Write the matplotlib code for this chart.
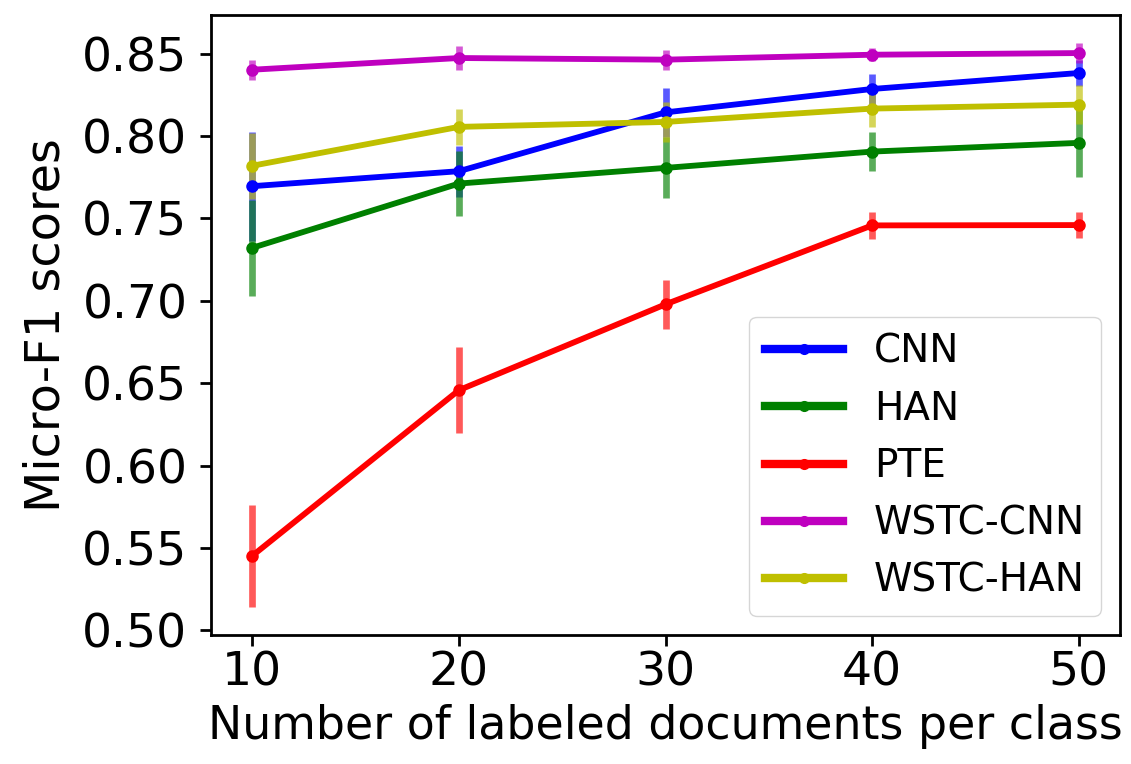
import matplotlib
matplotlib.use("Agg")
import matplotlib.pyplot as plt
from matplotlib.lines import Line2D

x = [10, 20, 30, 40, 50]
labels = ["CNN", "HAN", "PTE", "WSTC-CNN", "WSTC-HAN"]
colors = ["b", "g", "r", "m", "y"]
cnn = [0.7696, 0.7787, 0.8144, 0.8286, 0.8383]
cnn_err = [0.033, 0.0155, 0.015, 0.009, 0.008]
han = [0.7322, 0.7712, 0.7807, 0.7906, 0.7959]
han_err = [0.029, 0.0195, 0.0185, 0.012, 0.021]
pte = [0.5453, 0.6458, 0.6979, 0.7458, 0.7460]
pte_err = [0.031, 0.026, 0.0147, 0.008, 0.0077]
wstc_cnn = [0.8403, 0.8474, 0.8464, 0.8494, 0.8504]
wstc_cnn_err = [0.006, 0.007, 0.006, 0.004, 0.006]
wstc_han = [0.7820, 0.8056, 0.8086, 0.8167, 0.8191]
wstc_han_err = [0.020, 0.011, 0.012, 0.011, 0.012]

series = [cnn, han, pte, wstc_cnn, wstc_han]
errs = [cnn_err, han_err, pte_err, wstc_cnn_err, wstc_han_err]

fig = plt.figure(figsize=(11.31, 7.64), dpi=100)
ax = fig.add_axes([211/1131, 1-635/764, (1120-211)/1131, (635-15)/764])

for y, e, c, lab in zip(series, errs, colors, labels):
    _, _, bars = ax.errorbar(x, y, yerr=e, color=c, ecolor=c, marker='o', markersize=8,
                             linewidth=4.2, elinewidth=4.8)
    for b in bars:
        b.set_alpha(0.65)

ax.set_xticks(x)
ax.set_yticks([0.50, 0.55, 0.60, 0.65, 0.70, 0.75, 0.80, 0.85])
ax.tick_params(labelsize=34, length=8, width=2)
ax.tick_params(axis='y', pad=9)
for s in ax.spines.values():
    s.set_linewidth(2)
ax.set_xlabel("Number of labeled documents per class", fontsize=33, labelpad=6)
ax.set_ylabel("Micro-F1 scores", fontsize=34.5, labelpad=9)

handles = [Line2D([], [], color=c, marker='o', markersize=7, linewidth=6) for c in colors]
ax.legend(handles, labels, loc="lower right", fontsize=28)

fig.savefig("out.png", dpi=100)
